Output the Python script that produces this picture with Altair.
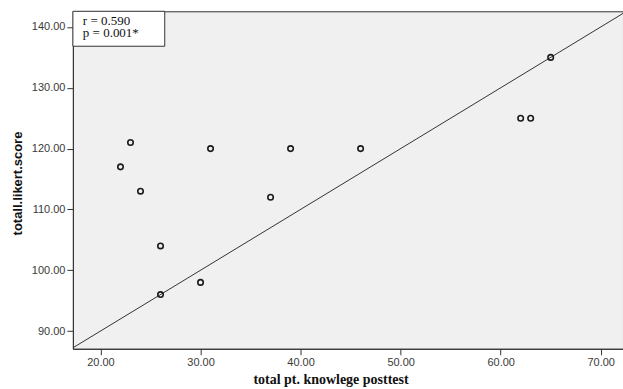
import altair as alt
import pandas as pd

# Data
knowledge = [23, 22, 24, 26, 26, 30, 31, 37, 39, 46, 62, 63, 65]
likert = [121, 117, 113, 104, 96, 98, 120, 112, 120, 120, 125, 125, 135]

line_x = [17.24, 72.23]
line_y = [87.24, 142.23]

x_ticks = [20, 30, 40, 50, 60, 70]
y_ticks = [90, 100, 110, 120, 130, 140]

r_text = "r = 0.590"
p_text = "p = 0.001*"

x_domain = [17.24, 72.23]
y_domain = [87.09, 142.58]

pts = pd.DataFrame({"x": knowledge, "y": likert})
ln = pd.DataFrame({"x": line_x, "y": line_y})

xscale = alt.Scale(domain=x_domain, nice=False, zero=False)
yscale = alt.Scale(domain=y_domain, nice=False, zero=False)

axis_common = dict(
    labelFont="Liberation Sans", labelFontSize=11, labelColor="#3a3a3a",
    tickColor="#333333", tickSize=6, labelPadding=2,
    domainColor="#333333", grid=False, format=".2f",
)

xaxis = alt.Axis(
    values=x_ticks, title="total pt. knowlege posttest",
    titleFont="Liberation Serif", titleFontSize=14, titleFontWeight="bold",
    titleColor="#111111", titleX=258, titleY=35, titleAlign="center",
    titleBaseline="alphabetic", **axis_common,
)
yaxis = alt.Axis(
    values=y_ticks, title="totall.likert.score",
    titleFont="Liberation Sans", titleFontSize=13, titleFontWeight="bold",
    titleColor="#111111", titleX=-55, titleY=172, titleAngle=-90,
    titleAlign="center", titleBaseline="middle", **axis_common,
)

line = alt.Chart(ln).mark_line(color="#333333", strokeWidth=1, clip=True).encode(
    x=alt.X("x:Q", scale=xscale, axis=xaxis),
    y=alt.Y("y:Q", scale=yscale, axis=yaxis),
)

points = alt.Chart(pts).mark_point(
    shape="circle", filled=False, size=30, stroke="#1a1a1a", strokeWidth=1.6, opacity=1
).encode(
    x=alt.X("x:Q", scale=xscale),
    y=alt.Y("y:Q", scale=yscale),
)

one = pd.DataFrame({"a": [0]})

box = alt.Chart(one).mark_rect(
    fill="white", stroke="#333333", strokeWidth=1
).encode(
    x=alt.value(0), x2=alt.value(92), y=alt.value(0), y2=alt.value(35)
)

txt_style = dict(font="Liberation Serif", fontSize=13, align="left",
                 baseline="alphabetic", color="#111111")

txt_r = alt.Chart(one).mark_text(text=r_text, **txt_style).encode(
    x=alt.value(10), y=alt.value(14)
)
txt_p = alt.Chart(one).mark_text(text=p_text, **txt_style).encode(
    x=alt.value(10), y=alt.value(25.5)
)

chart = alt.layer(line, points, box, txt_r, txt_p).properties(
    width=551, height=338,
    padding={"left": 73, "top": 11, "right": 0, "bottom": 40},
    autosize=alt.AutoSizeParams(type="none"),
    background="white",
).configure_view(
    fill="#f0f0f0", stroke="#333333", strokeWidth=1
)

chart.save("out.html", embed_options={"renderer": "svg", "actions": False})
